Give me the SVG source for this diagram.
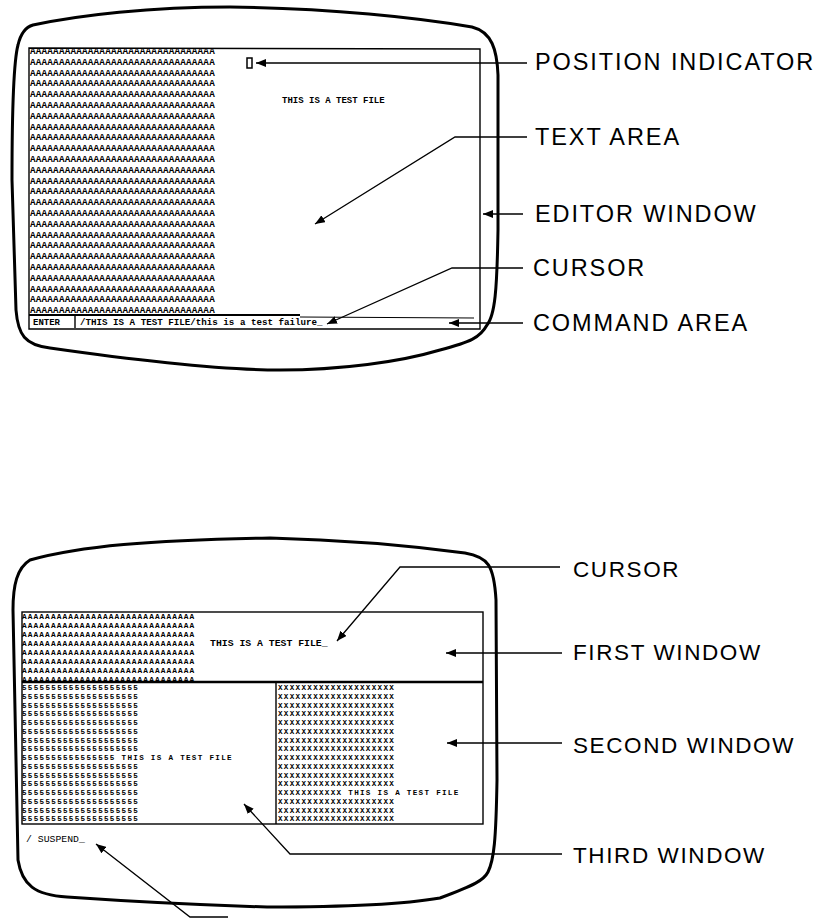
<svg xmlns="http://www.w3.org/2000/svg" width="820" height="919" viewBox="0 0 820 919">
<style>
.crt{fill:none;stroke:#000;stroke-width:3;stroke-linejoin:round}
.win{fill:none;stroke:#000;stroke-width:1.4}
.lead{fill:none;stroke:#000;stroke-width:1.3}
.blk{font-family:"Liberation Mono",monospace;font-weight:bold;font-size:9.3px;letter-spacing:0.2px;fill:#000}
.blk2{font-family:"Liberation Mono",monospace;font-weight:bold;font-size:7.8px;letter-spacing:1.1px;fill:#000}
.blk3{font-family:"Liberation Mono",monospace;font-weight:bold;font-size:7.6px;letter-spacing:1.3px;fill:#000}
.scr{font-family:"Liberation Mono",monospace;font-weight:bold;font-size:9.8px;fill:#000}
.lt{font-family:"Liberation Sans",Arial,sans-serif;font-size:23.5px;letter-spacing:1.9px;fill:#000}
.lb{font-family:"Liberation Sans",Arial,sans-serif;font-size:22.5px;letter-spacing:1.6px;fill:#000}
</style>
<defs>
<marker id="ah" markerWidth="10" markerHeight="8" refX="10" refY="4" orient="auto" markerUnits="userSpaceOnUse">
<path d="M0,0 L10,4 L0,8 Z" fill="#000"/>
</marker>
</defs>

<g id="screen-top">
<path class="crt" d="M33,25 C80,15 150,7 230,7 C330,8 420,18 472,27 C492,32 497,50 498,75 L498,230 C497,290 495,315 487,325 C480,338 470,342 440,350 C400,362 340,370 280,370 C220,370 120,358 50,348 C25,345 18,335 16,310 L12,180 C12,100 14,60 18,45 C21,32 26,27 33,25 Z"/>
<path class="win" d="M29,48 L480,49 L480,329 L29,329 Z"/>
<line x1="29" y1="315" x2="300" y2="315" stroke="#000" stroke-width="2.2"/>
<line x1="300" y1="317" x2="474" y2="318" stroke="#000" stroke-width="1"/>
<line x1="75" y1="315" x2="75" y2="328" stroke="#000" stroke-width="1.4"/>
<text class="scr" x="33" y="325" style="font-size:9px">ENTER</text>
<text class="scr" x="80" y="325" style="font-size:9.2px">/THIS IS A TEST FILE/this is a test failure_</text>
<text class="blk">
<tspan x="30" y="54">AAAAAAAAAAAAAAAAAAAAAAAAAAAAAAAA</tspan>
<tspan x="30" y="64.8">AAAAAAAAAAAAAAAAAAAAAAAAAAAAAAAA</tspan>
<tspan x="30" y="75.6">AAAAAAAAAAAAAAAAAAAAAAAAAAAAAAAA</tspan>
<tspan x="30" y="86.4">AAAAAAAAAAAAAAAAAAAAAAAAAAAAAAAA</tspan>
<tspan x="30" y="97.2">AAAAAAAAAAAAAAAAAAAAAAAAAAAAAAAA</tspan>
<tspan x="30" y="108">AAAAAAAAAAAAAAAAAAAAAAAAAAAAAAAA</tspan>
<tspan x="30" y="118.8">AAAAAAAAAAAAAAAAAAAAAAAAAAAAAAAA</tspan>
<tspan x="30" y="129.6">AAAAAAAAAAAAAAAAAAAAAAAAAAAAAAAA</tspan>
<tspan x="30" y="140.4">AAAAAAAAAAAAAAAAAAAAAAAAAAAAAAAA</tspan>
<tspan x="30" y="151.2">AAAAAAAAAAAAAAAAAAAAAAAAAAAAAAAA</tspan>
<tspan x="30" y="162">AAAAAAAAAAAAAAAAAAAAAAAAAAAAAAAA</tspan>
<tspan x="30" y="172.8">AAAAAAAAAAAAAAAAAAAAAAAAAAAAAAAA</tspan>
<tspan x="30" y="183.6">AAAAAAAAAAAAAAAAAAAAAAAAAAAAAAAA</tspan>
<tspan x="30" y="194.4">AAAAAAAAAAAAAAAAAAAAAAAAAAAAAAAA</tspan>
<tspan x="30" y="205.2">AAAAAAAAAAAAAAAAAAAAAAAAAAAAAAAA</tspan>
<tspan x="30" y="216">AAAAAAAAAAAAAAAAAAAAAAAAAAAAAAAA</tspan>
<tspan x="30" y="226.8">AAAAAAAAAAAAAAAAAAAAAAAAAAAAAAAA</tspan>
<tspan x="30" y="237.6">AAAAAAAAAAAAAAAAAAAAAAAAAAAAAAAA</tspan>
<tspan x="30" y="248.4">AAAAAAAAAAAAAAAAAAAAAAAAAAAAAAAA</tspan>
<tspan x="30" y="259.2">AAAAAAAAAAAAAAAAAAAAAAAAAAAAAAAA</tspan>
<tspan x="30" y="270">AAAAAAAAAAAAAAAAAAAAAAAAAAAAAAAA</tspan>
<tspan x="30" y="280.8">AAAAAAAAAAAAAAAAAAAAAAAAAAAAAAAA</tspan>
<tspan x="30" y="291.6">AAAAAAAAAAAAAAAAAAAAAAAAAAAAAAAA</tspan>
<tspan x="30" y="302.4">AAAAAAAAAAAAAAAAAAAAAAAAAAAAAAAA</tspan>
<tspan x="30" y="313">AAAAAAAAAAAAAAAAAAAAAAAAAAAAAAAA</tspan>
</text>
<rect x="247" y="58" width="5" height="10" fill="none" stroke="#000" stroke-width="1.5"/>
<text class="scr" x="282" y="103" style="font-size:9px">THIS IS A TEST FILE</text>
</g>

<g id="screen-bottom">
<path class="crt" d="M30,560 C80,546 150,540 270,538 C350,540 420,547 465,553 C488,557 494,565 496,600 L497,780 C496,840 494,860 488,872 C484,880 475,885 440,898 C400,905 330,907 267,907 C200,905 110,900 67,897 C35,895 22,885 18,860 L13,610 C13,585 17,568 30,560 Z"/>
<rect class="win" x="22" y="612" width="461" height="212"/>
<line x1="22" y1="682" x2="483" y2="682" stroke="#000" stroke-width="2.4"/>
<line x1="276" y1="682" x2="276" y2="824" stroke="#000" stroke-width="1.4"/>
<text class="blk2">
<tspan x="22" y="619">AAAAAAAAAAAAAAAAAAAAAAAAAAAAAA</tspan>
<tspan x="22" y="628">AAAAAAAAAAAAAAAAAAAAAAAAAAAAAA</tspan>
<tspan x="22" y="637">AAAAAAAAAAAAAAAAAAAAAAAAAAAAAA</tspan>
<tspan x="22" y="646">AAAAAAAAAAAAAAAAAAAAAAAAAAAAAA</tspan>
<tspan x="22" y="655">AAAAAAAAAAAAAAAAAAAAAAAAAAAAAA</tspan>
<tspan x="22" y="664">AAAAAAAAAAAAAAAAAAAAAAAAAAAAAA</tspan>
<tspan x="22" y="673">AAAAAAAAAAAAAAAAAAAAAAAAAAAAAA</tspan>
<tspan x="22" y="682">AAAAAAAAAAAAAAAAAAAAAAAAAAAAAA</tspan>
</text>
<text class="scr" x="210" y="646">THIS IS A TEST FILE_</text>
<text class="blk3">
<tspan x="22" y="690">55555555555555555555</tspan>
<tspan x="22" y="698.75">55555555555555555555</tspan>
<tspan x="22" y="707.5">55555555555555555555</tspan>
<tspan x="22" y="716.25">55555555555555555555</tspan>
<tspan x="22" y="725">55555555555555555555</tspan>
<tspan x="22" y="733.75">55555555555555555555</tspan>
<tspan x="22" y="742.5">55555555555555555555</tspan>
<tspan x="22" y="751.25">55555555555555555555</tspan>
<tspan x="22" y="760">5555555555555555 THIS IS A TEST FILE</tspan>
<tspan x="22" y="768.75">55555555555555555555</tspan>
<tspan x="22" y="777.5">55555555555555555555</tspan>
<tspan x="22" y="786.25">55555555555555555555</tspan>
<tspan x="22" y="795">55555555555555555555</tspan>
<tspan x="22" y="803.75">55555555555555555555</tspan>
<tspan x="22" y="812.5">55555555555555555555</tspan>
<tspan x="22" y="821.25">55555555555555555555</tspan>
</text>
<text class="blk3">
<tspan x="278" y="690">XXXXXXXXXXXXXXXXXXXX</tspan>
<tspan x="278" y="698.75">XXXXXXXXXXXXXXXXXXXX</tspan>
<tspan x="278" y="707.5">XXXXXXXXXXXXXXXXXXXX</tspan>
<tspan x="278" y="716.25">XXXXXXXXXXXXXXXXXXXX</tspan>
<tspan x="278" y="725">XXXXXXXXXXXXXXXXXXXX</tspan>
<tspan x="278" y="733.75">XXXXXXXXXXXXXXXXXXXX</tspan>
<tspan x="278" y="742.5">XXXXXXXXXXXXXXXXXXXX</tspan>
<tspan x="278" y="751.25">XXXXXXXXXXXXXXXXXXXX</tspan>
<tspan x="278" y="760">XXXXXXXXXXXXXXXXXXXX</tspan>
<tspan x="278" y="768.75">XXXXXXXXXXXXXXXXXXXX</tspan>
<tspan x="278" y="777.5">XXXXXXXXXXXXXXXXXXXX</tspan>
<tspan x="278" y="786.25">XXXXXXXXXXXXXXXXXXXX</tspan>
<tspan x="278" y="795">XXXXXXXXXXX    THIS IS A TEST FILE</tspan>
<tspan x="278" y="803.75">XXXXXXXXXXXXXXXXXXXX</tspan>
<tspan x="278" y="812.5">XXXXXXXXXXXXXXXXXXXX</tspan>
<tspan x="278" y="821.25">XXXXXXXXXXXXXXXXXXXX</tspan>
</text>
<text class="scr" x="26" y="842" style="font-weight:normal">/ SUSPEND_</text>
</g>

<g id="connectors">
<path class="lead" d="M527,63 H256" marker-end="url(#ah)"/>
<path class="lead" d="M527,137 H455 L315,224" marker-end="url(#ah)"/>
<path class="lead" d="M523,214 H483" marker-end="url(#ah)"/>
<path class="lead" d="M523,268 H452 L327,324" marker-end="url(#ah)"/>
<path class="lead" d="M523,323 H449" marker-end="url(#ah)"/>
<path class="lead" d="M560,567 H400 L337,641" marker-end="url(#ah)"/>
<path class="lead" d="M562,653 H446" marker-end="url(#ah)"/>
<path class="lead" d="M562,743 H447" marker-end="url(#ah)"/>
<path class="lead" d="M562,854 H290 L244,804" marker-end="url(#ah)"/>
<path class="lead" d="M228,917 H190 L96,844" marker-end="url(#ah)"/>
</g>

<g id="labels">
<text class="lt" x="535" y="70">POSITION INDICATOR</text>
<text class="lt" x="535" y="145">TEXT AREA</text>
<text class="lt" x="535" y="222">EDITOR WINDOW</text>
<text class="lt" x="533" y="276">CURSOR</text>
<text class="lt" x="533" y="331">COMMAND AREA</text>
<text class="lb" x="573" y="577">CURSOR</text>
<text class="lb" x="573" y="660">FIRST WINDOW</text>
<text class="lb" x="573" y="753">SECOND WINDOW</text>
<text class="lb" x="573" y="863">THIRD WINDOW</text>
</g>
</svg>
